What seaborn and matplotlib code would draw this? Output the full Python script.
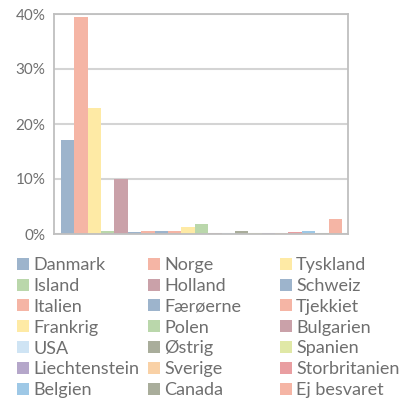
import matplotlib
matplotlib.use("Agg")
import matplotlib.pyplot as plt
import seaborn as sns
import pandas as pd
from matplotlib.patches import Patch

# data
lande = ["Danmark", "Norge", "Tyskland", "Island", "Holland", "Schweiz",
         "Italien", "Færøerne", "Tjekkiet", "Frankrig", "Polen", "Bulgarien",
         "USA", "Østrig", "Spanien", "Liechtenstein", "Sverige", "Storbritanien",
         "Belgien", "Canada", "Ej besvaret"]
andel = [17.1, 39.5, 23.0, 0.5, 10.0, 0.3, 0.5, 0.5, 0.5, 1.2, 1.8, 0.15,
         0.1, 0.5, 0.1, 0.15, 0.1, 0.35, 0.5, 0.2, 2.7]
farver = ["#9db4cc", "#f5b5a5", "#feeaa5", "#bad7ab", "#caa1a9", "#9db4cc",
          "#f5b5a5", "#9db4cc", "#f5b5a5", "#feeaa5", "#bad7ab", "#caa1a9",
          "#cfe4f4", "#a9ad9b", "#e0e8a6", "#b5a7ca", "#f9d1a6", "#e99ea1",
          "#9ec8e6", "#a9ad9b", "#f5b5a5"]
yticks = [0, 10, 20, 30, 40]

df = pd.DataFrame({"land": lande, "andel": andel})

sns.set_style("white")
plt.rcParams["font.family"] = ["Lato", "DejaVu Sans"]
grey = "#6f6f6f"

fig = plt.figure(figsize=(4.03, 4.04), dpi=100)
ax = fig.add_axes([54 / 403, 170 / 404, 294 / 403, 220 / 404])

sns.barplot(data=df, x="land", y="andel", hue="land", palette=farver,
            saturation=1, width=1.0, legend=False, ax=ax, linewidth=0)

ax.set_xlim(-1.02, 20.95)
ax.set_ylim(0, 40)
ax.set_yticks(yticks)
ax.set_yticklabels([f"{t}%" for t in yticks], color=grey, fontsize=11)
ax.set_xticks([])
ax.set_xlabel("")
ax.set_ylabel("")
ax.yaxis.grid(True, color="#d4d4d4", linewidth=1.5)
ax.set_axisbelow(True)
ax.tick_params(axis="y", length=4, color="#bfbfbf", width=1.2, pad=2)
for s in ax.spines.values():
    s.set_visible(True)
    s.set_color("#bfbfbf")
    s.set_linewidth(1.3)

# legend filled row by row: one legend per column at fixed x
handles = [Patch(facecolor=c, edgecolor="none") for c in farver]
for col, x0 in enumerate([17, 148, 280]):
    idx = list(range(col, len(lande), 3))
    fig.legend([handles[i] for i in idx], [lande[i] for i in idx],
               ncol=1, loc="upper left",
               bbox_to_anchor=(x0 / 403, 1 - 257 / 404),
               frameon=False, fontsize=13, labelcolor=grey,
               handlelength=0.65, handleheight=0.65, handletextpad=0.25,
               labelspacing=0.27, borderaxespad=0, borderpad=0)

fig.savefig("out.png", dpi=100)
